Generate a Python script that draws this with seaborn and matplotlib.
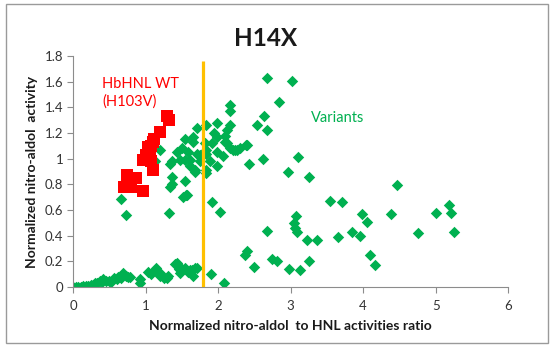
import matplotlib
matplotlib.use("Agg")
import matplotlib.pyplot as plt
import seaborn as sns
import pandas as pd
from matplotlib.patches import Rectangle

# ---- data ----
wt_x = [1.30, 1.33, 1.20, 1.10, 1.07, 1.03, 1.00, 1.06, 0.96, 1.07, 1.10, 0.75, 0.87,
        0.70, 0.80, 0.96, 1.04, 1.12]
wt_y = [1.33, 1.30, 1.21, 1.13, 1.10, 1.07, 1.03, 1.04, 0.99, 0.98, 0.91, 0.87, 0.85,
        0.78, 0.78, 0.75, 1.09, 1.15]

var_x = [
    # low-activity band
    0.00, 0.04, 0.07, 0.11, 0.14, 0.18, 0.21, 0.25, 0.28, 0.31, 0.33, 0.37, 0.40, 0.42,
    0.46, 0.49, 0.52, 0.56, 0.60, 0.62, 0.66, 0.69, 0.73, 0.76, 0.79, 0.92, 0.92, 1.04,
    1.08, 1.13, 1.15, 1.20, 1.20, 1.25, 1.29, 1.31, 1.41, 1.43, 1.46, 1.48, 1.48, 1.54,
    1.58, 1.61, 1.64, 1.66, 1.68, 1.71, 1.90, 2.08,
    # main cluster
    0.66, 0.73, 1.20, 1.13, 1.34, 1.34, 1.36, 1.36, 1.36, 1.33, 1.56, 1.52, 1.43, 1.48,
    1.50, 1.54, 1.54, 1.54, 1.57, 1.59, 1.61, 1.61, 1.66, 1.66, 1.68, 1.68, 1.71, 1.71,
    1.75, 1.75, 1.82, 1.83, 1.84, 1.84, 1.84, 1.84, 1.89, 1.91, 1.91, 1.94, 1.98, 1.98,
    1.98, 1.99, 2.03, 2.07, 2.10, 2.10, 2.12, 2.12, 2.16, 2.17, 2.17, 2.17, 2.21, 2.23,
    2.26, 2.30, 2.39, 2.40, 2.42,
    # scattered to the right
    2.67, 3.02, 2.84, 2.63, 2.53, 2.67, 2.62, 3.10, 2.97, 3.25, 3.55, 3.71, 3.98, 4.05,
    4.38, 5.00, 5.18, 5.21, 5.25, 4.75, 4.46, 3.84, 3.96, 3.66, 3.22, 3.36, 3.08, 3.04,
    3.06, 3.09, 2.67, 2.40, 2.37, 2.50, 2.74, 2.81, 2.98, 3.13, 3.26, 4.10, 4.17,
]
var_y = [
    0.00, 0.00, 0.00, 0.00, 0.01, 0.01, 0.01, 0.02, 0.02, 0.03, 0.03, 0.05, 0.04, 0.06,
    0.05, 0.05, 0.04, 0.07, 0.06, 0.08, 0.07, 0.11, 0.09, 0.08, 0.08, 0.03, 0.06, 0.12,
    0.10, 0.13, 0.145, 0.09, 0.11, 0.07, 0.07, 0.09, 0.18, 0.185, 0.14, 0.11, 0.16, 0.145,
    0.12, 0.13, 0.13, 0.09, 0.145, 0.145, 0.10, 0.035,
    0.69, 0.56, 1.07, 0.98, 0.96, 0.78, 0.86, 0.80, 0.98, 0.575, 0.72, 0.70, 1.05, 0.99,
    1.08, 1.15, 0.99, 0.83, 0.72, 1.05, 0.94, 0.99, 1.17, 1.13, 0.90, 0.91, 1.24, 1.04,
    1.03, 0.98, 1.12, 1.26, 1.07, 0.885, 1.04, 0.91, 0.98, 1.12, 0.665, 1.20, 1.17, 0.94,
    1.05, 1.28, 0.585, 1.02, 1.13, 1.18, 1.22, 1.12, 1.37, 1.42, 1.08, 1.26, 1.07, 1.07,
    1.07, 1.08, 1.11, 1.11, 0.96,
    1.63, 1.605, 1.44, 1.33, 1.26, 1.22, 1.00, 1.01, 0.90, 0.855, 0.67, 0.66, 0.57, 0.51,
    0.57, 0.58, 0.64, 0.58, 0.43, 0.42, 0.795, 0.43, 0.40, 0.39, 0.37, 0.37, 0.55, 0.50,
    0.46, 0.43, 0.44, 0.28, 0.25, 0.16, 0.215, 0.20, 0.14, 0.13, 0.20, 0.25, 0.17,
]

threshold_x = 1.79
threshold_top = 1.76

title = "H14X"
xlabel = "Normalized nitro-aldol  to HNL activities ratio"
ylabel = "Normalized nitro-aldol  activity"
wt_label = "HbHNL WT\n(H103V)"
var_label = "Variants"

df_var = pd.DataFrame({"x": var_x, "y": var_y})
df_wt = pd.DataFrame({"x": wt_x, "y": wt_y})

sns.set_theme(style="white")
plt.rcParams["font.family"] = ["Lato", "DejaVu Sans"]

fig = plt.figure(figsize=(5.53, 3.48), dpi=100)
ax = fig.add_axes([0.132, 0.175, 0.787, 0.664])

sns.scatterplot(data=df_var, x="x", y="y", ax=ax, marker="D", s=34,
                color="#00B050", linewidth=0, zorder=2, legend=False)
sns.scatterplot(data=df_wt, x="x", y="y", ax=ax, marker="s", s=72,
                color="#FF0000", linewidth=0, zorder=3, legend=False)
ax.plot([threshold_x, threshold_x], [0, threshold_top], color="#FFC000",
        linewidth=2.3, zorder=4, solid_capstyle="butt")

ax.set_xlim(0, 6)
ax.set_ylim(0, 1.8)
ax.set_xticks(range(0, 7))
ax.set_yticks([0, 0.2, 0.4, 0.6, 0.8, 1.0, 1.2, 1.4, 1.6, 1.8])
ax.set_yticklabels(["0", "0.2", "0.4", "0.6", "0.8", "1", "1.2", "1.4", "1.6", "1.8"])
ax.tick_params(axis="both", which="major", direction="out", length=4, width=0.8,
               color="#8c8c8c", labelsize=9.5, labelcolor="#333333", pad=3,
               bottom=True, left=True)
ax.tick_params(axis="x", pad=5)
for side in ["top", "right"]:
    ax.spines[side].set_visible(False)
for side in ["left", "bottom"]:
    ax.spines[side].set_color("#8c8c8c")
    ax.spines[side].set_linewidth(0.8)
ax.grid(False)

ax.set_xlabel(xlabel, fontsize=10, fontweight="bold", color="#1a1a1a", labelpad=6)
ax.set_ylabel(ylabel, fontsize=10, fontweight="bold", color="#1a1a1a", labelpad=5)
fig.text(0.481, 0.89, title, ha="center", va="center", fontsize=17.5,
         fontweight="bold", color="#1a1a1a")

ax.text(0.40, 1.64, wt_label, color="#FF0000", fontsize=10.5, ha="left", va="top",
        linespacing=1.35)
ax.text(3.28, 1.32, var_label, color="#00B050", fontsize=10.5, ha="left", va="center")

fig.patches.append(Rectangle((6 / 553, 5 / 348), 542 / 553, 339 / 348,
                             transform=fig.transFigure, fill=False,
                             edgecolor="#9a9a9a", linewidth=1.0))

fig.savefig("out.png", dpi=100)
